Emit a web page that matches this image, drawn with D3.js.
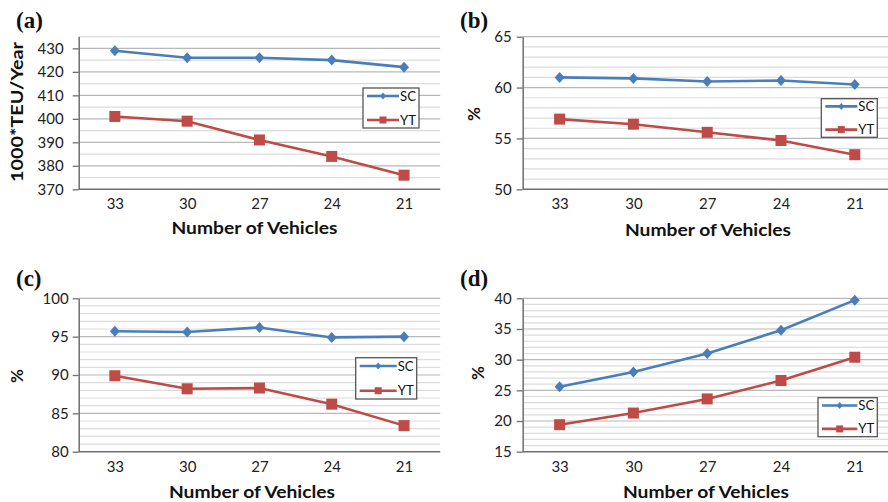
<!DOCTYPE html>
<html><head><meta charset="utf-8">
<script src="https://cdn.jsdelivr.net/npm/d3@7"></script>
<style>
html,body{margin:0;padding:0;background:#fff;}
svg{display:block;}
</style></head>
<body>
<svg id="chart" width="888" height="502"></svg>
<script>
// ---- data ----
const categories = ["33", "30", "27", "24", "21"];
const seriesNames = ["SC", "YT"];
const scA = [429, 426, 426, 425, 422];
const ytA = [401, 399, 391, 384, 376];
const scB = [61.0, 60.9, 60.6, 60.7, 60.3];
const ytB = [56.9, 56.4, 55.6, 54.8, 53.4];
const scC = [95.7, 95.6, 96.2, 94.9, 95.0];
const ytC = [89.9, 88.2, 88.3, 86.2, 83.4];
const scD = [25.6, 28.0, 31.0, 34.8, 39.7];
const ytD = [19.4, 21.3, 23.6, 26.6, 30.4];
const ticksA = [370, 380, 390, 400, 410, 420, 430];
const ticksB = [50, 55, 60, 65];
const ticksC = [80, 85, 90, 95, 100];
const ticksD = [15, 20, 25, 30, 35, 40];
const domainA = [370, 435], domainB = [50, 65], domainC = [80, 100], domainD = [15, 40];
const minorStepA = 5, minorStepB = 1, minorStepC = 1, minorStepD = 1;
const panelLabels = ["(a)", "(b)", "(c)", "(d)"];
const yTitles = ["1000*TEU/Year", "%", "%", "%"];
const xTitle = "Number of Vehicles";

// ---- layout ----
const BLUE = "#4A7EBB", RED = "#BE4B48";
const panels = [
  {sc: scA, yt: ytA, ticks: ticksA, domain: domainA, minor: minorStepA, label: panelLabels[0], ytitle: yTitles[0],
   left: 78.7, right: 440.2, top: 36.6, bottom: 189.3, labOff: 15,
   lab: [16, 28], yt_: [17, 112, 140], xt: [254.5, 234], leg: [363, 88, 56, 40]},
  {sc: scB, yt: ytB, ticks: ticksB, domain: domainB, minor: minorStepB, label: panelLabels[1], ytitle: yTitles[1],
   left: 522.7, right: 891.7, top: 36.7, bottom: 189.3, labOff: 11,
   lab: [460, 28], yt_: [474, 114, 0], xt: [708, 236], leg: [821.3, 98.7, 56, 38.6]},
  {sc: scC, yt: ytC, ticks: ticksC, domain: domainC, minor: minorStepC, label: panelLabels[2], ytitle: yTitles[2],
   left: 78.7, right: 440.2, top: 298.3, bottom: 451.7, labOff: 10,
   lab: [16, 286], yt_: [16.7, 376, 0], xt: [252, 498], leg: [355.7, 357.7, 61, 41.3]},
  {sc: scD, yt: ytD, ticks: ticksD, domain: domainD, minor: minorStepD, label: panelLabels[3], ytitle: yTitles[3],
   left: 522.7, right: 891.7, top: 298.3, bottom: 451.7, labOff: 11,
   lab: [460, 286], yt_: [478, 373, 0], xt: [706, 498], leg: [818, 397.7, 59.3, 39]}
];

const svg = d3.select("#chart");
const FONT = "Lato, 'Open Sans', sans-serif";

function diamondPath(cx, cy, hw, hh) {
  return `M${cx},${cy-hh}L${cx+hw},${cy}L${cx},${cy+hh}L${cx-hw},${cy}Z`;
}

panels.forEach(p => {
  const g = svg.append("g");
  const x = d3.scalePoint().domain(categories).range([p.left, p.right]).padding(0.5);
  const y = d3.scaleLinear().domain(p.domain).range([p.bottom, p.top]);

  // gridlines (minor + major)
  const grid = d3.range(p.domain[0] + p.minor, p.domain[1] + p.minor / 2, p.minor);
  g.append("g").selectAll("line").data(grid).join("line")
    .attr("x1", p.left).attr("x2", p.right)
    .attr("y1", d => y(d)).attr("y2", d => y(d))
    .attr("stroke", d => p.ticks.some(t => Math.abs(t - d) < 1e-6) ? "#b8b8b8" : "#dcdcdc")
    .attr("stroke-width", 1.2);

  // y axis
  const ya = g.append("g").attr("transform", `translate(${p.left},0)`)
    .call(d3.axisLeft(y).tickValues(p.ticks).tickSize(6).tickPadding(p.labOff - 6).tickSizeOuter(0));
  ya.select(".domain").attr("stroke", "#6e6e6e").attr("stroke-width", 1.5);
  ya.selectAll(".tick line").attr("stroke", "#6e6e6e").attr("stroke-width", 1.3);
  ya.selectAll("text").attr("font-family", FONT).attr("font-size", 15).attr("fill", "#222");

  // x axis
  const xa = g.append("g").attr("transform", `translate(0,${p.bottom})`)
    .call(d3.axisBottom(x).tickSize(0).tickSizeOuter(0));
  xa.select(".domain").attr("d", `M${p.left},0H${p.right}`).attr("stroke", "#6e6e6e").attr("stroke-width", 1.5);
  xa.selectAll("text").attr("y", 20).attr("dy", null)
    .attr("font-family", FONT).attr("font-size", 15).attr("fill", "#222");

  // lines
  const line = d3.line().x((d, i) => x(categories[i])).y(d => y(d));
  g.append("path").datum(p.sc).attr("d", line).attr("fill", "none").attr("stroke", BLUE).attr("stroke-width", 2.6);
  g.append("path").datum(p.yt).attr("d", line).attr("fill", "none").attr("stroke", RED).attr("stroke-width", 2.6);
  g.append("g").selectAll("path").data(p.sc).join("path")
    .attr("d", (d, i) => diamondPath(x(categories[i]), y(d), 5, 5.5)).attr("fill", BLUE);
  g.append("g").selectAll("rect").data(p.yt).join("rect")
    .attr("x", (d, i) => x(categories[i]) - 5.5).attr("y", d => y(d) - 5.5)
    .attr("width", 11).attr("height", 11).attr("fill", RED);

  // titles
  g.append("text").attr("x", p.xt[0]).attr("y", p.xt[1]).attr("text-anchor", "middle")
    .attr("font-family", FONT).attr("font-weight", "bold").attr("font-size", 17).attr("fill", "#111")
    .attr("textLength", 166).attr("lengthAdjust", "spacingAndGlyphs").text(xTitle);
  const yt = g.append("text").attr("transform", `translate(${p.yt_[0] + 6},${p.yt_[1]}) rotate(-90)`)
    .attr("text-anchor", "middle").attr("font-family", FONT).attr("font-weight", "bold")
    .attr("font-size", 17).attr("fill", "#111").text(p.ytitle);
  if (p.yt_[2]) yt.attr("textLength", p.yt_[2]).attr("lengthAdjust", "spacingAndGlyphs");

  g.append("text").attr("x", p.lab[0]).attr("y", p.lab[1])
    .attr("font-family", "'Liberation Serif', 'DejaVu Serif', serif").attr("font-weight", "bold")
    .attr("font-size", 23).attr("fill", "#111").text(p.label);

  // legend
  const [lx, ly, lw, lh] = p.leg;
  const lg = g.append("g");
  lg.append("rect").attr("x", lx).attr("y", ly).attr("width", lw).attr("height", lh)
    .attr("fill", "#fff").attr("stroke", "#555").attr("stroke-width", 1.3);
  const rows = [{n: seriesNames[0], c: BLUE, yy: ly + lh * 0.2}, {n: seriesNames[1], c: RED, yy: ly + lh * 0.8}];
  rows.forEach((r, k) => {
    lg.append("line").attr("x1", lx + 4).attr("x2", lx + lw - 20).attr("y1", r.yy).attr("y2", r.yy)
      .attr("stroke", r.c).attr("stroke-width", 2.6);
    const cx = lx + 4 + (lw - 24) / 2;
    if (k === 0) lg.append("path").attr("d", diamondPath(cx, r.yy, 3, 3.5)).attr("fill", r.c);
    else lg.append("rect").attr("x", cx - 3.5).attr("y", r.yy - 3.5).attr("width", 7).attr("height", 7).attr("fill", r.c);
    lg.append("text").attr("x", lx + lw - 19).attr("y", r.yy).attr("dy", "0.35em")
      .attr("font-family", FONT).attr("font-size", 13).attr("fill", "#111")
      .attr("textLength", 16).attr("lengthAdjust", "spacingAndGlyphs").text(r.n);
  });
});
</script>
</body></html>
